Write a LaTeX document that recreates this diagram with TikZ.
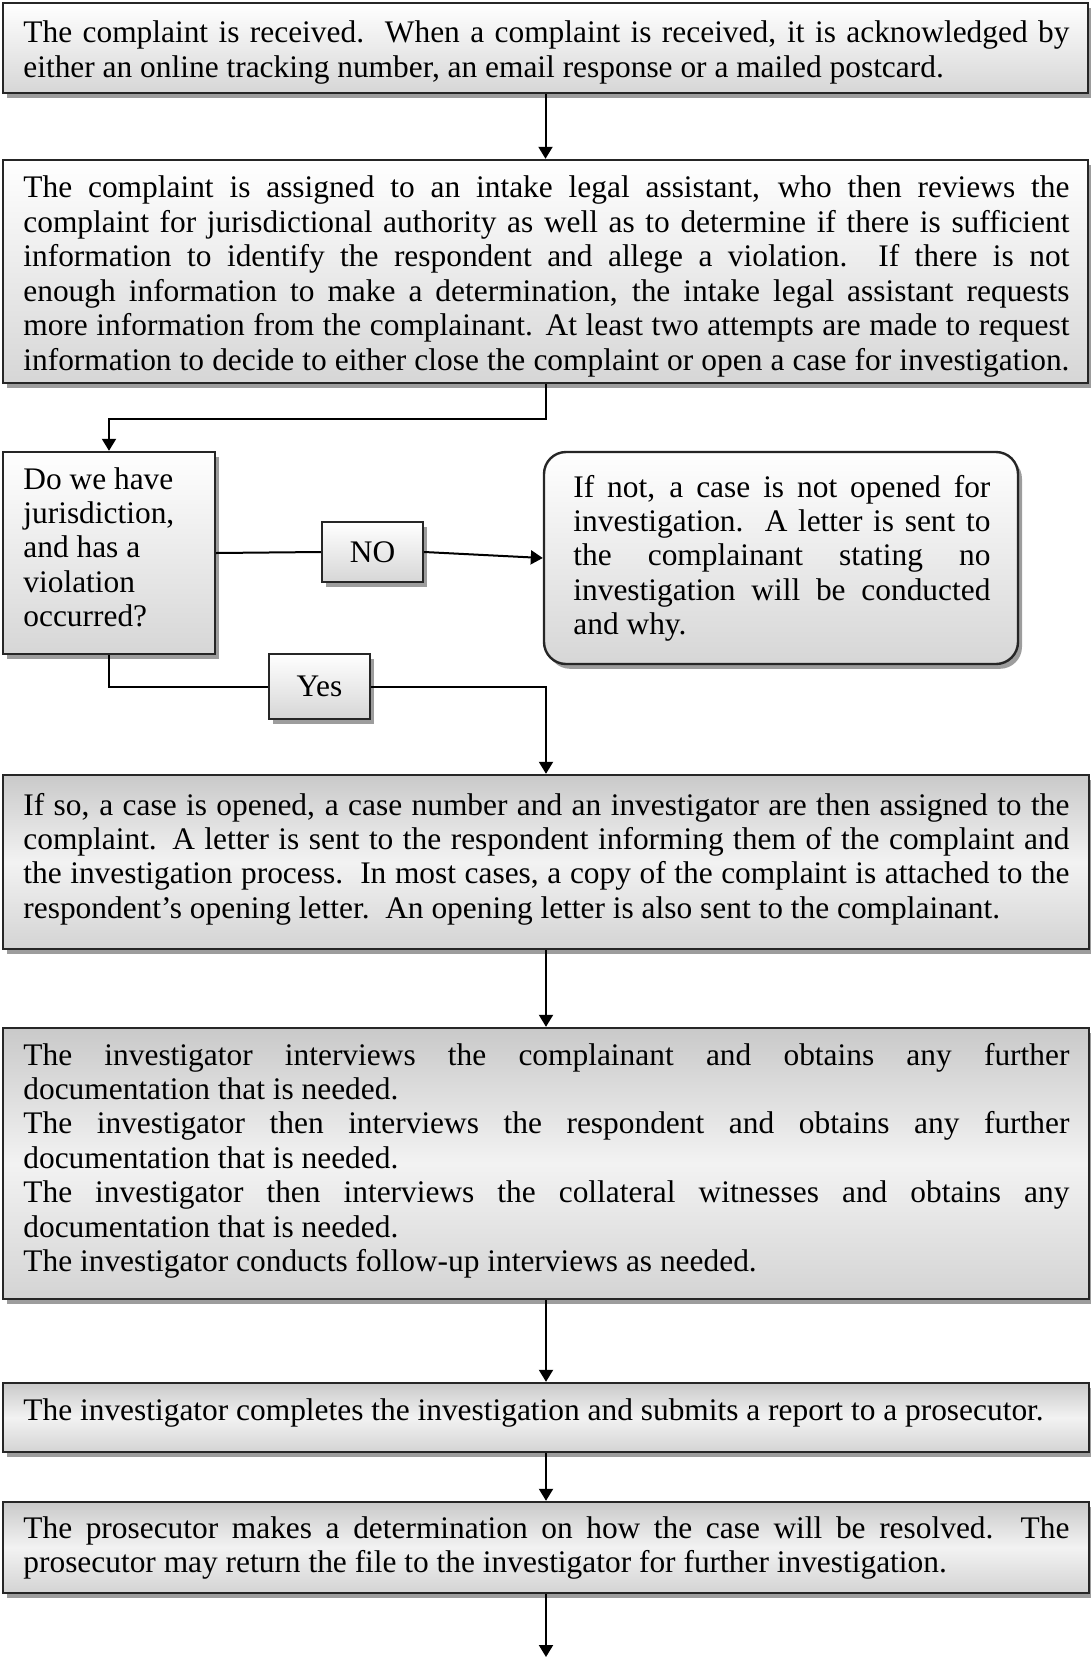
\documentclass[tikz,border=0pt]{standalone}
\usepackage{fontspec}
\setmainfont{Liberation Serif}
\usetikzlibrary{shadows,arrows.meta}
\newcommand\J[1]{\makebox[\hsize][s]{#1}}
\newcommand\Sp{\spaceskip=0pt\xspaceskip=0pt\relax}
\begin{document}
\begin{tikzpicture}[x=0.5pt,y=-0.5pt,
  box/.style={draw=black!85, line width=1.2pt, top color=white, bottom color=black!16,
    drop shadow={shadow xshift=2pt,shadow yshift=-2.4pt,fill=black!55,opacity=0.7}, inner sep=0pt,
    font=\fontsize{15.7pt}{17.2pt}\selectfont},
  mbox/.style={box, top color=black!21, bottom color=black!17, middle color=black!5},
  txt/.style={anchor=base west, inner sep=0pt, align=left, font=\fontsize{15.7pt}{17.2pt}\selectfont},
  arr/.style={line width=1pt, -{Triangle[length=6pt,width=7pt]}},
  ln/.style={line width=1pt}]
\useasboundingbox (0,0) rectangle (1091,1659);

% boxes
\node[box, minimum width=542.5pt, minimum height=45pt] (b1) at (545.5,48) {};
\node[box, minimum width=542.5pt, minimum height=111.5pt] (b2) at (545.5,271.5) {};
\node[box, minimum width=106pt, minimum height=101pt] (dec) at (109,553) {};
\node[box, minimum width=50.5pt, minimum height=30pt] (no) at (372.5,552) {NO};
\node[box, minimum width=50.5pt, minimum height=32.5pt] (yes) at (319.5,686.5) {Yes};
\node[box, rounded corners=11pt, minimum width=237pt, minimum height=106pt] (notopen) at (781,558) {};
\node[mbox, minimum width=543pt, minimum height=87pt] (b4) at (546,862) {};
\node[mbox, minimum width=543pt, minimum height=135.5pt] (b5) at (546,1163.5) {};
\node[mbox, minimum width=543pt, minimum height=34.5pt] (b6) at (546,1417.5) {};
\node[mbox, minimum width=543pt, minimum height=45.5pt] (b7) at (546,1547.5) {};

% texts
\node[txt, text width=523pt] (t1) at (23,43) {\Sp\J{The complaint is received.\ \ When a complaint is received, it is acknowledged by}\\
either an online tracking number, an email response or a mailed postcard.};

\node[txt, text width=523pt] (t2) at (23,198) {\Sp\J{The complaint is assigned to an intake legal assistant, who then reviews the}\\
\J{complaint for jurisdictional authority as well as to determine if there is sufficient}\\
\J{information to identify the respondent and allege a violation.\ \ If there is not}\\
\J{enough information to make a determination, the intake legal assistant requests}\\
\J{more information from the complainant. At least two attempts are made to request}\\
\J{information to decide to either close the complaint or open a case for investigation.}};

\node[txt, text width=180pt] (t3) at (23,489) {\Sp Do we have\\jurisdiction,\\and has a\\violation\\occurred?};

\node[txt, text width=208.5pt] (t4) at (573,497) {\Sp\J{If not, a case is not opened for}\\
\J{investigation.\ \ A letter is sent to}\\
\J{the complainant stating no}\\
\J{investigation will be conducted}\\
and why.};

\node[txt, text width=523pt] (t5) at (23,815) {\Sp\J{If so, a case is opened, a case number and an investigator are then assigned to the}\\
\J{complaint. A letter is sent to the respondent informing them of the complaint and}\\
\J{the investigation process.\ \ In most cases, a copy of the complaint is attached to the}\\
respondent’s opening letter.\ \ An opening letter is also sent to the complainant.};

\node[txt, text width=523pt] (t6) at (23,1065) {\Sp\J{The investigator interviews the complainant and obtains any further}\\
documentation that is needed.\\
\J{The investigator then interviews the respondent and obtains any further}\\
documentation that is needed.\\
\J{The investigator then interviews the collateral witnesses and obtains any}\\
documentation that is needed.\\
The investigator conducts follow-up interviews as needed.};

\node[txt, text width=530pt] (t7) at (23,1420) {\Sp The investigator completes the investigation and submits a report to a prosecutor.};

\node[txt, text width=523pt] (t8) at (23,1538) {\Sp\J{The prosecutor makes a determination on how the case will be resolved.\ \ The}\\
prosecutor may return the file to the investigator for further investigation.};

% connectors
\draw[arr] (b1) -- (b2);
\draw[arr] (b2.south) -- ++(0,35) -| (dec.north);
\draw[ln] (dec.east) -- (no.west);
\draw[arr] (no.east) -- (notopen.west);
\draw[ln] (dec.south) |- (yes.west);
\draw[arr] (yes.east) -| (b4.north);
\draw[arr] (b4) -- (b5);
\draw[arr] (b5) -- (b6);
\draw[arr] (b6) -- (b7);
\coordinate (end) at (546,1657);
\draw[arr] (b7.south) -- (end);
\end{tikzpicture}
\end{document}
